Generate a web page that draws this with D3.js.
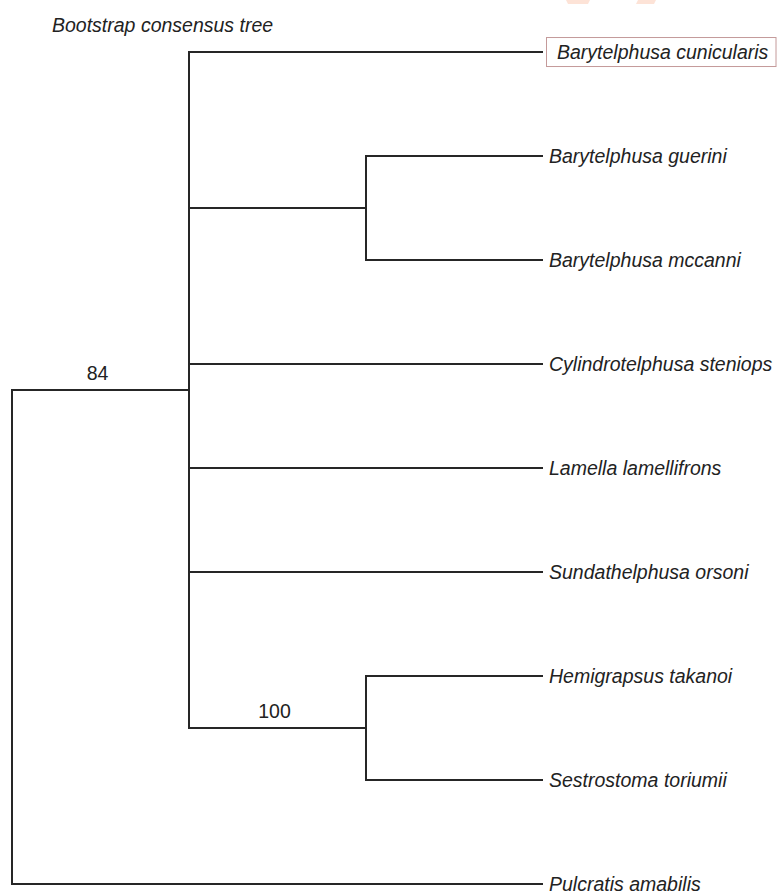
<!DOCTYPE html>
<html>
<head>
<meta charset="utf-8">
<script src="https://cdn.jsdelivr.net/npm/d3@7"></script>
<style>
  html, body { margin: 0; padding: 0; background: #fff; }
  svg { display: block; }
  text { font-family: "Liberation Sans", Arial, Helvetica, sans-serif; fill: #222; }
</style>
</head>
<body>
<svg id="chart" width="777" height="895"></svg>
<script>
// ---- data ----
const title = "Bootstrap consensus tree";
const leafOrder = [
  "Barytelphusa cunicularis",
  "Barytelphusa guerini",
  "Barytelphusa mccanni",
  "Cylindrotelphusa steniops",
  "Lamella lamellifrons",
  "Sundathelphusa orsoni",
  "Hemigrapsus takanoi",
  "Sestrostoma toriumii",
  "Pulcratis amabilis"
];
const cladeGuerini = ["Barytelphusa guerini", "Barytelphusa mccanni"];
const cladeHemigrapsus = ["Hemigrapsus takanoi", "Sestrostoma toriumii"];
const ingroupSupport = 84;
const hemigrapsusSupport = 100;
const outgroup = "Pulcratis amabilis";
const highlightedTaxon = "Barytelphusa cunicularis";

// ---- tree structure ----
const treeData = {
  name: "root",
  children: [
    {
      name: "ingroup", support: ingroupSupport,
      children: [
        { name: "Barytelphusa cunicularis" },
        { name: "cladeGuerini", children: cladeGuerini.map(n => ({ name: n })) },
        { name: "Cylindrotelphusa steniops" },
        { name: "Lamella lamellifrons" },
        { name: "Sundathelphusa orsoni" },
        { name: "cladeHemigrapsus", support: hemigrapsusSupport,
          children: cladeHemigrapsus.map(n => ({ name: n })) }
      ]
    },
    { name: outgroup }
  ]
};

const root = d3.hierarchy(treeData);
const maxLevel = root.height;

// scales
const xLevel = d3.scaleLinear().domain([0, maxLevel]).range([12, 543]);
const yLeaf = d3.scaleLinear().domain([0, leafOrder.length - 1]).range([52, 884]);

// positions: leaves aligned at max level; internal nodes by height (cladogram)
root.eachAfter(node => {
  node.px = xLevel(maxLevel - node.height);
  if (!node.children) {
    node.py = yLeaf(leafOrder.indexOf(node.data.name));
  } else {
    const first = node.children[0], last = node.children[node.children.length - 1];
    node.py = (first.py + last.py) / 2;
  }
});

const svg = d3.select("#chart");

// faint watermark fragments at top edge
const wm = svg.append("g").attr("fill", "#fde3d7");
wm.append("path").attr("d", "M566,0 L590,0 L588,4 L568,4 Z");
wm.append("path").attr("d", "M638,0 L656,0 L654,4 L636,4 Z");

// title
svg.append("text")
  .attr("x", 52).attr("y", 32)
  .attr("font-size", 19.5)
  .attr("font-style", "italic")
  .text(title);

const gLinks = svg.append("g")
  .attr("fill", "none")
  .attr("stroke", "#262626")
  .attr("stroke-width", 2)
  .attr("stroke-linecap", "square");

root.each(node => {
  if (node.children) {
    const first = node.children[0], last = node.children[node.children.length - 1];
    gLinks.append("line")
      .attr("x1", node.px).attr("x2", node.px)
      .attr("y1", first.py).attr("y2", last.py);
    node.children.forEach(ch => {
      gLinks.append("line")
        .attr("x1", node.px).attr("x2", ch.px)
        .attr("y1", ch.py).attr("y2", ch.py)
        .attr("stroke-linecap", "butt");
    });
  }
});

// support values
root.descendants().filter(d => d.data.support != null).forEach(d => {
  svg.append("text")
    .attr("x", (d.parent.px + d.px) / 2 - 3)
    .attr("y", d.py - 10)
    .attr("text-anchor", "middle")
    .attr("font-size", 19.5)
    .text(d.data.support);
});

// leaf labels
root.leaves().forEach(leaf => {
  const isHi = leaf.data.name === highlightedTaxon;
  const t = svg.append("text")
    .attr("x", leaf.px + (isHi ? 14 : 6))
    .attr("y", leaf.py)
    .attr("dy", "0.36em")
    .attr("font-size", 19.5)
    .attr("font-style", "italic")
    .text(leaf.data.name);
  if (isHi) {
    const bb = t.node().getBBox();
    svg.insert("rect", "text")
      .attr("x", leaf.px + 3.5)
      .attr("y", bb.y - 3.5)
      .attr("width", 776 - (leaf.px + 3.5))
      .attr("height", bb.height + 7)
      .attr("fill", "#fff")
      .attr("stroke", "#c49a9a")
      .attr("stroke-width", 1);
  }
});
</script>
</body>
</html>
